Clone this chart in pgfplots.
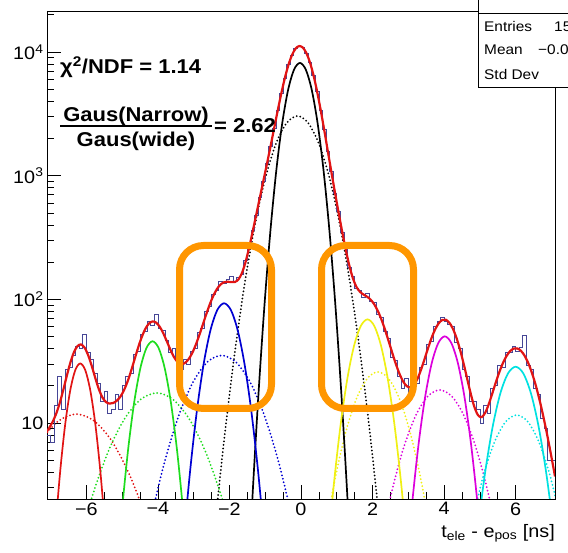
\documentclass[border=0pt]{standalone}
\usepackage{fontspec}
\setmainfont{Liberation Sans}[FakeStretch=1.1]
\usepackage{pgfplots}
\pgfplotsset{compat=1.18}
\definecolor{histblue}{RGB}{70,70,150}
\definecolor{fitred}{RGB}{225,20,20}
\definecolor{cgreen}{RGB}{30,220,30}
\definecolor{cblue}{RGB}{0,0,210}
\definecolor{cyellow}{RGB}{240,240,20}
\definecolor{cmagenta}{RGB}{220,0,220}
\definecolor{ccyan}{RGB}{0,225,225}
\definecolor{boxorange}{RGB}{255,150,0}
\pgfplotsset{
  comp/.style={smooth, line width=1.7pt, no markers},
  compdot/.style={smooth, line width=2.0pt, no markers, line cap=round, dash pattern=on 0pt off 3.6pt},
}
\begin{document}
\begin{tikzpicture}
\begin{axis}[
  at={(47pt,53pt)}, anchor=south west,
  scale only axis, width=508pt, height=488pt,
  xmin=-7.1, xmax=7.1, ymode=log, ymin=2.43, ymax=21430,
  xtick={-6,-4,-2,0,2,4,6}, xticklabels={−6,−4,−2,0,2,4,6},
  minor x tick num=3,
  ytick={10,100,1000,10000},
  yticklabels={10,10\textsuperscript{2},10\textsuperscript{3},10\textsuperscript{4}},
  minor ytick={3,4,5,6,7,8,9,20,30,40,50,60,70,80,90,200,300,400,500,600,700,800,900,2000,3000,4000,5000,6000,7000,8000,9000,20000},
  tick align=inside, xtick pos=bottom, ytick pos=left,
  major tick length=14pt, minor tick length=7pt,
  tick style={black, line width=0.6pt},
  axis line style={line width=0.8pt},
  tick label style={font=\fontsize{18}{20}\selectfont},
  xlabel={t\textsubscript{ele} - e\textsubscript{pos} [ns]},
  xlabel style={at={(axis description cs:1,0)}, anchor=base east, yshift=-38pt, inner sep=0pt, font=\fontsize{18}{20}\selectfont},
]
% wide components (dotted)
\addplot[compdot, black] coordinates {(-2.755,0.1216) (-2.46,1.018) (-2.165,6.639) (-1.87,33.72) (-1.575,133.35) (-1.28,410.8) (-0.985,985.3) (-0.69,1840.8) (-0.395,2678.4) (-0.1,3035) (0.195,2678.4) (0.49,1840.8) (0.785,985.3) (1.08,410.8) (1.375,133.35) (1.67,33.72) (1.965,6.639) (2.26,1.018) (2.555,0.1216)};
\addplot[compdot, fitred] coordinates {(-8.755,0.5185) (-8.26,1.597) (-7.765,3.831) (-7.27,7.157) (-6.775,10.414) (-6.28,11.8) (-5.785,10.414) (-5.29,7.157) (-4.795,3.831) (-4.30,1.597) (-3.805,0.5185)};
\addplot[compdot, cgreen] coordinates {(-6.33,0.7689) (-5.87,2.368) (-5.41,5.681) (-4.95,10.614) (-4.49,15.444) (-4.03,17.5) (-3.57,15.444) (-3.11,10.614) (-2.65,5.681) (-2.19,2.368) (-1.73,0.7689)};
\addplot[compdot, cblue] coordinates {(-4.62,0.391) (-4.22,1.5466) (-3.82,4.764) (-3.42,11.428) (-3.02,21.35) (-2.62,31.064) (-2.22,35.2) (-1.82,31.064) (-1.42,21.35) (-1.02,11.428) (-0.62,4.764) (-0.22,1.5466) (0.18,0.391)};
\addplot[compdot, cyellow] coordinates {(0.35,0.2877) (0.65,1.138) (0.95,3.505) (1.25,8.408) (1.55,15.709) (1.85,22.857) (2.15,25.9) (2.45,22.857) (2.75,15.709) (3.05,8.408) (3.35,3.505) (3.65,1.138) (3.95,0.2877)};
\addplot[compdot, cmagenta] coordinates {(1.81,0.2055) (2.155,0.8128) (2.50,2.504) (2.845,6.006) (3.19,11.221) (3.535,16.326) (3.88,18.5) (4.225,16.326) (4.57,11.221) (4.915,6.006) (5.26,2.504) (5.605,0.8128) (5.95,0.2055)};
\addplot[compdot, ccyan] coordinates {(4.48,0.5097) (4.79,1.570) (5.10,3.766) (5.41,7.036) (5.72,10.237) (6.03,11.6) (6.34,10.237) (6.65,7.036) (6.96,3.766) (7.27,1.570) (7.58,0.5097)};
% narrow components (solid)
\addplot[comp, black] coordinates {(-1.515,0.3265) (-1.35,2.734) (-1.185,17.83) (-1.02,90.54) (-0.855,358.1) (-0.69,1103) (-0.525,2646) (-0.36,4943) (-0.195,7192) (-0.03,8150) (0.135,7192) (0.3,4943) (0.465,2646) (0.63,1103) (0.795,358.1) (0.96,90.54) (1.125,17.83) (1.29,2.734) (1.455,0.3265)};
\addplot[comp, fitred] coordinates {(-7.01,0.3366) (-6.87,1.331) (-6.73,4.101) (-6.59,9.837) (-6.45,18.38) (-6.31,26.74) (-6.17,30.3) (-6.03,26.74) (-5.89,18.38) (-5.75,9.837) (-5.61,4.101) (-5.47,1.331) (-5.33,0.3366)};
\addplot[comp, cgreen] coordinates {(-5.17,0.5088) (-5.0,2.012) (-4.83,6.199) (-4.66,14.87) (-4.49,27.78) (-4.32,40.42) (-4.15,45.8) (-3.98,40.42) (-3.81,27.78) (-3.64,14.87) (-3.47,6.199) (-3.30,2.012) (-3.13,0.5088)};
\addplot[comp, cblue] coordinates {(-3.48,0.2032) (-3.29,1.032) (-3.10,4.082) (-2.91,12.573) (-2.72,30.16) (-2.53,56.35) (-2.34,81.98) (-2.15,92.9) (-1.96,81.98) (-1.77,56.35) (-1.58,30.16) (-1.39,12.573) (-1.20,4.082) (-1.01,1.032) (-0.82,0.2032)};
\addplot[comp, cyellow] coordinates {(0.72,0.7654) (0.91,3.027) (1.10,9.325) (1.29,22.37) (1.48,41.79) (1.67,60.80) (1.86,68.9) (2.05,60.80) (2.24,41.79) (2.43,22.37) (2.62,9.325) (2.81,3.027) (3.00,0.7654)};
\addplot[comp, cmagenta] coordinates {(2.922,0.5577) (3.105,2.206) (3.288,6.794) (3.471,16.30) (3.654,30.45) (3.837,44.30) (4.02,50.2) (4.203,44.30) (4.386,30.45) (4.569,16.30) (4.752,6.794) (4.935,2.206) (5.118,0.5577)};
\addplot[comp, ccyan] coordinates {(4.71,0.3166) (4.925,1.252) (5.14,3.857) (5.355,9.253) (5.57,17.286) (5.785,25.15) (6.0,28.5) (6.215,25.15) (6.43,17.286) (6.645,9.253) (6.86,3.857) (7.075,1.252) (7.29,0.3166)};
% histogram (left bin edges, 0.1 ns bins)
\addplot[const plot mark left, histblue, line width=0.7pt, no markers] coordinates {
(-7.1,8) (-7.0,7) (-6.9,14) (-6.8,24) (-6.7,13) (-6.6,27) (-6.5,28) (-6.4,35) (-6.3,42) (-6.2,40)
(-6.1,52) (-6.0,37) (-5.9,33) (-5.8,25) (-5.7,21) (-5.6,15) (-5.5,18) (-5.4,12) (-5.3,13) (-5.2,17)
(-5.1,13) (-5.0,20) (-4.9,24) (-4.8,25) (-4.7,36) (-4.6,38) (-4.5,52) (-4.4,55) (-4.3,66) (-4.2,62)
(-4.1,76) (-4.0,58) (-3.9,56) (-3.8,47) (-3.7,37) (-3.6,40) (-3.5,32) (-3.4,27) (-3.3,33) (-3.2,30)
(-3.1,38) (-3.0,40) (-2.9,54) (-2.8,58) (-2.7,80) (-2.6,88) (-2.5,110) (-2.4,118) (-2.3,140) (-2.2,134)
(-2.1,146) (-2.0,152) (-1.9,140) (-1.8,150) (-1.7,160) (-1.6,205) (-1.5,256) (-1.4,360) (-1.3,478) (-1.2,672)
(-1.1,905) (-1.0,1262) (-0.9,1721) (-0.8,2430) (-0.7,3350) (-0.6,4650) (-0.5,6160) (-0.4,7890) (-0.3,9440) (-0.2,10690)
(-0.1,11130) (0.0,10880) (0.1,9770) (0.2,8250) (0.3,6440) (0.4,4810) (0.5,3380) (0.6,2345) (0.7,1560) (0.8,1080)
(0.9,720) (1.0,512) (1.1,345) (1.2,258) (1.3,181) (1.4,152) (1.5,122) (1.6,118) (1.7,103) (1.8,112)
(1.9,96) (2.0,95) (2.1,76) (2.2,72) (2.3,55) (2.4,48) (2.5,34) (2.6,32) (2.7,24) (2.8,19)
(2.9,23) (3.0,17) (3.1,24) (3.2,21) (3.3,28) (3.4,30) (3.5,43) (3.6,46) (3.7,60) (3.8,66)
(3.9,71) (4.0,66) (4.1,63) (4.2,60) (4.3,45) (4.4,40) (4.5,27) (4.6,24) (4.7,15) (4.8,15)
(4.9,13) (5.0,10) (5.1,14) (5.2,12) (5.3,19) (5.4,20) (5.5,29) (5.6,28) (5.7,37) (5.8,37)
(5.9,42) (6.0,38) (6.1,41) (6.2,51) (6.3,29) (6.4,27) (6.5,19) (6.6,17) (6.7,11) (6.8,9)
(6.9,5) (7.0,5) (7.1,5)};
% total fit
\addplot[smooth, fitred, line width=2.2pt, no markers] coordinates {
(-7.1,8.56) (-7.05,9.02) (-6.95,10.12) (-6.85,11.75) (-6.75,14.31) (-6.65,18.27) (-6.55,23.84) (-6.45,30.56) (-6.35,37.14) (-6.25,41.83) (-6.15,43.15)
(-6.05,40.70) (-5.95,35.39) (-5.85,28.98) (-5.75,23.11) (-5.65,18.75) (-5.55,16.08) (-5.45,14.76) (-5.35,14.35) (-5.25,14.52) (-5.15,15.14)
(-5.05,16.31) (-4.95,18.38) (-4.85,21.58) (-4.75,26.35) (-4.65,32.87) (-4.55,40.91) (-4.45,49.66) (-4.35,57.78) (-4.25,63.72) (-4.15,66.24)
(-4.05,64.86) (-3.95,60.09) (-3.85,53.19) (-3.75,45.74) (-3.65,39.12) (-3.55,34.12) (-3.45,31.12) (-3.35,29.95) (-3.25,30.48) (-3.15,32.58)
(-3.05,36.33) (-2.95,42.25) (-2.85,50.63) (-2.75,61.75) (-2.65,75.51) (-2.55,91.07) (-2.45,106.89) (-2.35,121.04) (-2.25,131.57) (-2.15,137.39)
(-2.05,138.78) (-1.95,137.75) (-1.85,138.05) (-1.75,144.62) (-1.65,163.27) (-1.55,200.27) (-1.45,261.6) (-1.35,354.3) (-1.25,485.5) (-1.15,666.0)
(-1.05,912.2) (-0.95,1252.9) (-0.85,1733.3) (-0.75,2415.8) (-0.65,3366.0) (-0.55,4628.3) (-0.45,6174.0) (-0.35,7869.8) (-0.25,9465.9) (-0.15,10653.8)
(-0.05,11160.3) (0.05,10853) (0.15,9798) (0.25,8231.7) (0.35,6469) (0.45,4795.7) (0.55,3394.5) (0.65,2330.2) (0.75,1576.6) (0.85,1067.4)
(0.95,729.3) (1.05,504.4) (1.15,353.8) (1.25,253.1) (1.35,188.05) (1.45,148.2) (1.55,126.0) (1.65,114.9) (1.75,109.2) (1.85,104.9)
(1.95,99.1) (2.05,90.9) (2.15,80.3) (2.25,68.5) (2.35,56.6) (2.45,45.9) (2.55,37.0) (2.65,30.1) (2.75,25.1) (2.85,21.8)
(2.95,19.94) (3.05,19.39) (3.15,20.23) (3.25,22.6) (3.35,26.7) (3.45,32.6) (3.55,40.2) (3.65,48.75) (3.75,57.15) (3.85,64.04)
(3.95,68.03) (4.05,68.3) (4.15,64.5) (4.25,57.5) (4.35,48.4) (4.45,38.8) (4.55,29.9) (4.65,22.5) (4.75,17.0) (4.85,13.4)
(4.95,11.55) (5.05,11.16) (5.15,12.11) (5.25,14.25) (5.35,17.43) (5.45,21.49) (5.55,26.07) (5.65,30.77) (5.75,35.01) (5.85,38.25)
(5.95,40.0) (6.05,40.04) (6.15,38.29) (6.25,35.0) (6.35,30.65) (6.45,25.7) (6.55,20.74) (6.65,16.13) (6.75,12.14) (6.85,8.88)
(6.95,6.34) (7.05,4.45) (7.1,3.70)};
\end{axis}
% highlighted satellite bunches
\draw[boxorange, line width=7pt, rounded corners=24pt] (179.5pt,143.5pt) rectangle (271.5pt,306.5pt);
\draw[boxorange, line width=7pt, rounded corners=24pt] (321.5pt,143.5pt) rectangle (413.5pt,306.5pt);
% fit annotations
\begin{scope}[every node/.style={inner sep=0pt, font=\fontsize{20}{24}\selectfont\bfseries}]
\node[anchor=base west] at (60pt,478pt) {χ\textsuperscript{2}/NDF = 1.14};
\node[anchor=base] at (136pt,430.5pt) {Gaus(Narrow)};
\draw[line width=1.8pt] (60pt,426pt) -- (212pt,426pt);
\node[anchor=base] at (136pt,405pt) {Gaus(wide)};
\node[anchor=base west] at (214pt,419pt) {= 2.62};
\end{scope}
% stats box (cut by the picture edge, as in the reference)
\filldraw[fill=white, draw=black, line width=0.8pt] (478pt,465pt) rectangle (640pt,570pt);
\draw[line width=0.8pt] (478pt,539pt) -- (640pt,539pt);
\begin{scope}[every node/.style={inner sep=0pt, anchor=base west, font=\fontsize{14}{16}\selectfont}]
\node at (484pt,520pt) {Entries};
\node at (484pt,497pt) {Mean};
\node at (484pt,472pt) {Std Dev};
\node at (554pt,520pt) {15};
\node at (538pt,497pt) {−0.0};
\end{scope}
\pgfresetboundingbox
\useasboundingbox (0pt,0pt) rectangle (568pt,552pt);
\end{tikzpicture}
\end{document}
